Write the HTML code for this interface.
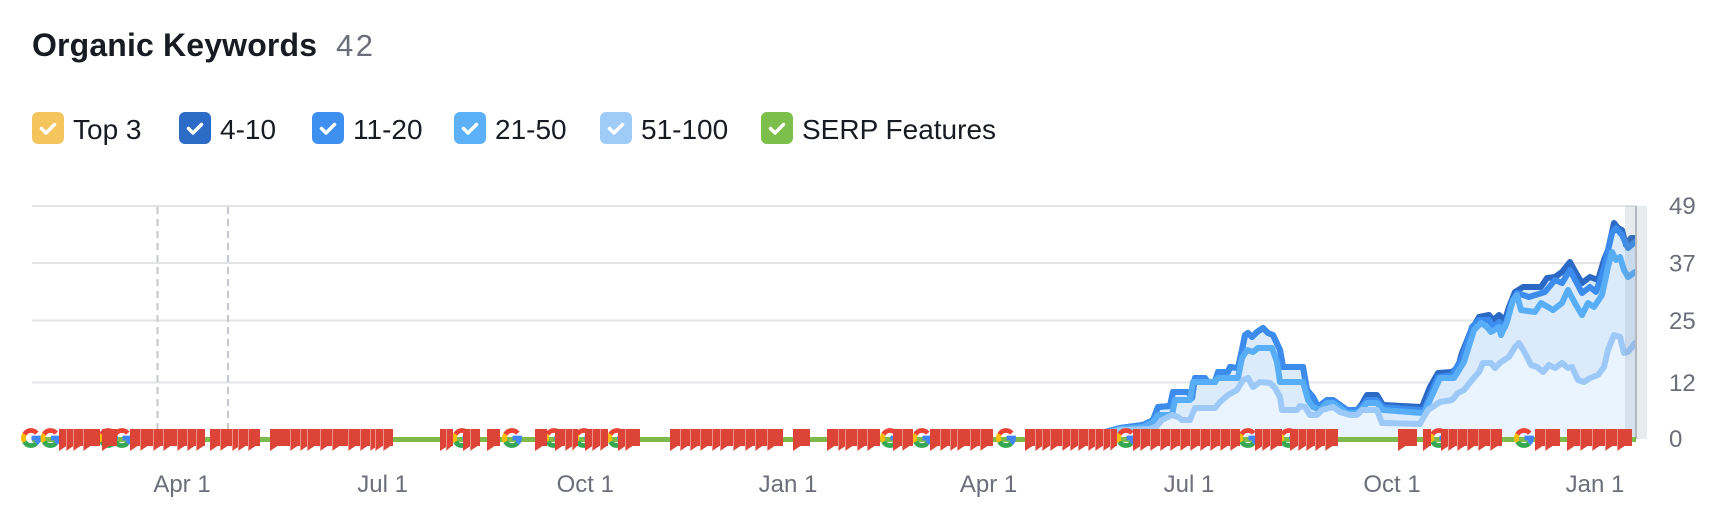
<!DOCTYPE html>
<html>
<head>
<meta charset="utf-8">
<style>
html,body{margin:0;padding:0;background:#fff;width:1734px;height:520px;overflow:hidden}
svg{display:block}
text{font-family:"Liberation Sans",Arial,sans-serif}
</style>
</head>
<body>
<svg width="1734" height="520" viewBox="0 0 1734 520" xmlns="http://www.w3.org/2000/svg">
<defs>
<g id="gl" fill="none" stroke-width="4.8">
<path d="M5.75,-4.82A7.5,7.5 0 0 0 -6.5,-3.75" stroke="#ea4335"/>
<path d="M-6.5,-3.75A7.5,7.5 0 0 0 -6.5,3.75" stroke="#fbbc05"/>
<path d="M-6.5,3.75A7.5,7.5 0 0 0 5.3,5.3" stroke="#34a853"/>
<path d="M5.3,5.3A7.5,7.5 0 0 0 7.5,0H0.5" stroke="#4285f4"/>
</g>
</defs>

<!-- Title -->
<text x="32" y="56" font-size="32" font-weight="bold" fill="#191b23" textLength="285" lengthAdjust="spacing">Organic Keywords</text>
<text x="336" y="56" font-size="31" fill="#6c6e79" textLength="37" lengthAdjust="spacing">42</text>

<!-- Legend -->
<g>
<rect x="32" y="112" width="32" height="32" rx="6" fill="#f4c55c"/>
<rect x="179" y="112" width="32" height="32" rx="6" fill="#2d6cc6"/>
<rect x="312" y="112" width="32" height="32" rx="6" fill="#3f8ff0"/>
<rect x="454" y="112" width="32" height="32" rx="6" fill="#5cb0f8"/>
<rect x="600" y="112" width="32" height="32" rx="6" fill="#9fcbf9"/>
<rect x="761" y="112" width="32" height="32" rx="6" fill="#7cbf4b"/>
<g fill="none" stroke="#fff" stroke-width="3.5" stroke-linecap="round" stroke-linejoin="round">
<polyline points="41.5,128.5 46,133 54.5,124.5"/>
<polyline points="188.5,128.5 193,133 201.5,124.5"/>
<polyline points="321.5,128.5 326,133 334.5,124.5"/>
<polyline points="463.5,128.5 468,133 476.5,124.5"/>
<polyline points="609.5,128.5 614,133 622.5,124.5"/>
<polyline points="770.5,128.5 775,133 783.5,124.5"/>
</g>
<g font-size="28" fill="#191b23">
<text x="73" y="139">Top 3</text>
<text x="220" y="139">4-10</text>
<text x="353" y="139">11-20</text>
<text x="495" y="139">21-50</text>
<text x="641" y="139">51-100</text>
<text x="802" y="139">SERP Features</text>
</g>
</g>

<!-- Gridlines -->
<g stroke="#e3e4e8" stroke-width="2">
<line x1="32" y1="206" x2="1636" y2="206"/>
<line x1="32" y1="263" x2="1636" y2="263"/>
<line x1="32" y1="320.5" x2="1636" y2="320.5"/>
<line x1="32" y1="382.5" x2="1636" y2="382.5"/>
</g>

<!-- Dashed verticals -->
<g stroke="#c4c7cc" stroke-width="2" stroke-dasharray="7 5">
<line x1="157.5" y1="207" x2="157.5" y2="430"/>
<line x1="228" y1="207" x2="228" y2="430"/>
</g>

<!-- Areas -->
<polygon fill="#dbebfc" points="1105,440 1105,432 1120,428 1143,425 1153,420 1158,407 1170,406 1173,392 1188,392 1192,398 1195,378 1205,378 1208,382 1215,382 1218,372 1228,372 1230,367 1238,368 1242,350 1245,335 1248,333 1252,337 1257,332 1263,328 1268,333 1273,335 1280,350 1283,367 1303,367 1307,390 1313,397 1318,407 1327,400 1333,400 1340,405 1347,410 1357,410 1362,404 1367,395 1377,395 1383,405 1422,407 1430,387 1438,373 1452,372 1458,367 1462,353 1470,333 1479,317 1489,315 1493,320 1499,315 1505,320 1509,307 1515,292 1523,287 1541,287 1547,278 1555,277 1562,272 1570,262 1576,273 1582,283 1590,277 1598,280 1604,260 1608,250 1614,223 1618,228 1622,230 1626,245 1631,238 1636,238 1636,440"/>
<polygon fill="#e9f4fe" points="1105,440 1105,434 1120,430 1150,429 1157,426 1162,420 1172,415 1178,417 1182,420 1190,420 1195,408 1215,408 1220,402 1228,395 1237,390 1243,380 1248,378 1253,387 1260,382 1270,383 1275,388 1280,397 1282,410 1297,410 1300,406 1305,407 1310,415 1317,415 1322,410 1333,407 1340,412 1350,415 1357,415 1362,410 1377,410 1382,423 1420,424 1422,420 1428,410 1440,402 1452,400 1458,393 1464,390 1472,380 1479,372 1483,363 1491,363 1495,368 1501,362 1509,357 1515,347 1519,343 1525,353 1531,365 1537,367 1543,372 1549,365 1555,368 1562,363 1568,368 1572,367 1578,380 1584,382 1590,378 1598,375 1604,367 1608,350 1614,335 1620,337 1624,353 1628,352 1636,343 1636,440"/>

<!-- Lines -->
<g fill="none" stroke-width="6" stroke-linejoin="round" stroke-linecap="round">
<polyline stroke="#2b69c4" points="1105,432 1120,428 1143,425 1153,420 1158,407 1170,406 1173,392 1188,392 1192,398 1195,378 1205,378 1208,382 1215,382 1218,372 1228,372 1230,367 1238,368 1242,350 1245,335 1248,333 1252,337 1257,332 1263,328 1268,333 1273,335 1280,350 1283,367 1303,367 1307,390 1313,397 1318,407 1327,400 1333,400 1340,405 1347,410 1357,410 1362,404 1367,395 1377,395 1383,405 1422,407 1430,387 1438,373 1452,372 1458,367 1462,353 1470,333 1479,317 1489,315 1493,320 1499,315 1505,320 1509,307 1515,292 1523,287 1541,287 1547,278 1555,277 1562,272 1570,262 1576,273 1582,283 1590,277 1598,280 1604,260 1608,250 1614,223 1618,228 1622,230 1626,245 1631,238 1635,238"/>
<polyline stroke="#3c8cee" points="1105,432 1120,428 1143,425 1153,420 1158,407 1170,406 1173,392 1188,392 1192,398 1195,378 1205,378 1208,382 1215,382 1218,372 1228,372 1230,367 1238,368 1242,350 1245,335 1248,333 1252,337 1257,332 1263,328 1268,333 1273,335 1280,350 1283,367 1303,367 1307,390 1313,397 1318,407 1327,400 1333,400 1340,405 1347,410 1357,410 1362,406 1367,400 1377,400 1383,407 1422,410 1424,410 1438,377 1452,375 1462,358 1472,327 1479,320 1489,320 1493,327 1499,322 1505,327 1511,305 1517,293 1529,297 1545,292 1555,280 1562,283 1570,270 1582,293 1590,287 1596,292 1604,268 1612,233 1616,228 1622,235 1628,248 1635,242"/>
<polyline stroke="#58adf7" points="1105,433 1120,429 1143,427 1153,422 1158,415 1172,415 1175,400 1190,400 1193,382 1215,382 1218,378 1238,378 1242,358 1247,350 1253,352 1258,348 1272,348 1277,362 1280,382 1303,382 1308,400 1313,407 1320,410 1327,403 1333,403 1340,408 1347,413 1357,413 1362,409 1367,403 1377,403 1383,410 1422,413 1424,413 1440,378 1454,378 1464,362 1474,330 1481,323 1487,327 1491,332 1499,327 1501,335 1507,322 1513,300 1517,295 1521,310 1535,312 1541,303 1553,310 1562,303 1568,290 1576,305 1582,315 1588,303 1594,307 1602,295 1608,267 1612,252 1616,260 1620,257 1624,270 1628,277 1635,272"/>
<polyline stroke="#9dc9f8" points="1105,434 1120,430 1150,429 1157,426 1162,420 1172,415 1178,417 1182,420 1190,420 1195,408 1215,408 1220,402 1228,395 1237,390 1243,380 1248,378 1253,387 1260,382 1270,383 1275,388 1280,397 1282,410 1297,410 1300,406 1305,407 1310,415 1317,415 1322,410 1333,407 1340,412 1350,415 1357,415 1362,410 1377,410 1382,423 1420,424 1422,420 1428,410 1440,402 1452,400 1458,393 1464,390 1472,380 1479,372 1483,363 1491,363 1495,368 1501,362 1509,357 1515,347 1519,343 1525,353 1531,365 1537,367 1543,372 1549,365 1555,368 1562,363 1568,368 1572,367 1578,380 1584,382 1590,378 1598,375 1604,367 1608,350 1614,335 1620,337 1624,353 1628,352 1635,343"/>
</g>

<!-- Right band -->
<rect x="1625" y="206" width="11" height="233" fill="#6e8296" opacity="0.16"/>
<rect x="1636" y="206" width="11" height="233" fill="#e9ecee"/>
<line x1="1636" y1="206" x2="1636" y2="439" stroke="#b3b9bf" stroke-width="2"/>

<!-- Markers: green line -->
<line x1="32" y1="439.5" x2="1636" y2="439.5" stroke="#7cbb4a" stroke-width="5"/>

<!-- Google G markers -->
<g>
<use href="#gl" x="31" y="438"/>
<use href="#gl" x="50.5" y="438"/>
<use href="#gl" x="108" y="438"/>
<use href="#gl" x="122" y="438"/>
<use href="#gl" x="462" y="438"/>
<use href="#gl" x="512" y="438"/>
<use href="#gl" x="554" y="438"/>
<use href="#gl" x="584" y="438"/>
<use href="#gl" x="617" y="438"/>
<use href="#gl" x="890" y="438"/>
<use href="#gl" x="922" y="438"/>
<use href="#gl" x="1006" y="438"/>
<use href="#gl" x="1126" y="438"/>
<use href="#gl" x="1248" y="438"/>
<use href="#gl" x="1289" y="438"/>
<use href="#gl" x="1439" y="438"/>
<use href="#gl" x="1524" y="438"/>
</g>

<!-- Red flags -->
<path fill="#db4437" d="
M59 429H100V446H59Z M102 429H117V446H102Z M130 429H205V446H130Z M210 429H260V446H210Z M270 429H393V446H270Z
M440 429H453V446H440Z M463 429H480V446H463Z M487 429H500V446H487Z M535 429H547V446H535Z M555 429H578V446H555Z
M585 429H608V446H585Z M618 429H640V446H618Z M670 429H783V446H670Z M793 429H810V446H793Z M827 429H880V446H827Z
M893 429H913V446H893Z M930 429H993V446H930Z M1025 429H1117V446H1025Z M1133 429H1240V446H1133Z M1255 429H1282V446H1255Z
M1290 429H1338V446H1290Z M1398 429H1417V446H1398Z M1423 429H1431V446H1423Z M1441 429H1502V446H1441Z M1535 429H1560V446H1535Z
M1567 429H1632V446H1567Z
M59 445h9l-9 6z M66 445h9l-9 6z M73 445h9l-9 6z M83 445h9l-9 6z M102 445h9l-9 6z
M130 445h9l-9 6z M140 445h9l-9 6z M153 445h9l-9 6z M163 445h9l-9 6z M177 445h9l-9 6z M187 445h9l-9 6z M196 445h9l-9 6z
M210 445h9l-9 6z M220 445h9l-9 6z M232 445h9l-9 6z M238 445h9l-9 6z M248 445h9l-9 6z
M270 445h9l-9 6z M290 445h9l-9 6z M300 445h9l-9 6z M307 445h9l-9 6z M320 445h9l-9 6z M332 445h9l-9 6z M348 445h9l-9 6z M360 445h9l-9 6z M370 445h9l-9 6z M375 445h9l-9 6z M383 445h9l-9 6z
M440 445h9l-9 6z M446 445h7l-7 6z M463 445h9l-9 6z M470 445h9l-9 6z M487 445h9l-9 6z
M535 445h9l-9 6z M555 445h9l-9 6z M565 445h9l-9 6z M572 445h6l-6 6z M585 445h9l-9 6z M592 445h9l-9 6z M600 445h8l-8 6z M618 445h9l-9 6z M625 445h9l-9 6z
M670 445h9l-9 6z M680 445h9l-9 6z M690 445h9l-9 6z M700 445h9l-9 6z M712 445h9l-9 6z M720 445h9l-9 6z M733 445h9l-9 6z M745 445h9l-9 6z M755 445h9l-9 6z M767 445h9l-9 6z
M793 445h9l-9 6z M827 445h9l-9 6z M838 445h9l-9 6z M845 445h9l-9 6z M857 445h9l-9 6z M867 445h9l-9 6z
M893 445h9l-9 6z M902 445h9l-9 6z M930 445h9l-9 6z M940 445h9l-9 6z M950 445h9l-9 6z M957 445h9l-9 6z M970 445h9l-9 6z M980 445h9l-9 6z
M1025 445h9l-9 6z M1035 445h9l-9 6z M1042 445h9l-9 6z M1050 445h9l-9 6z M1062 445h9l-9 6z M1070 445h9l-9 6z M1078 445h9l-9 6z M1088 445h9l-9 6z M1095 445h9l-9 6z M1103 445h9l-9 6z M1110 445h7l-7 6z
M1133 445h9l-9 6z M1140 445h9l-9 6z M1150 445h9l-9 6z M1160 445h9l-9 6z M1170 445h9l-9 6z M1180 445h9l-9 6z M1190 445h9l-9 6z M1200 445h9l-9 6z M1210 445h9l-9 6z M1220 445h9l-9 6z M1230 445h9l-9 6z
M1255 445h9l-9 6z M1262 445h9l-9 6z M1270 445h9l-9 6z M1290 445h9l-9 6z M1298 445h9l-9 6z M1306 445h9l-9 6z M1315 445h9l-9 6z M1325 445h9l-9 6z
M1398 445h9l-9 6z M1423 445h8l-8 6z M1441 445h9l-9 6z M1448 445h9l-9 6z M1457 445h9l-9 6z M1467 445h9l-9 6z M1478 445h9l-9 6z M1490 445h9l-9 6z
M1535 445h9l-9 6z M1545 445h9l-9 6z M1567 445h9l-9 6z M1580 445h9l-9 6z M1592 445h9l-9 6z M1605 445h9l-9 6z M1617 445h9l-9 6z
"/>
<path fill="none" stroke="#f5c9c4" stroke-width="1" opacity="0.6" d="
M66.5 429V451 M73.5 429V451 M83.5 429V451 M140.5 429V451 M153.5 429V451 M163.5 429V451 M177.5 429V451 M187.5 429V451 M196.5 429V451
M220.5 429V451 M232.5 429V451 M238.5 429V451 M248.5 429V451 M290.5 429V451 M300.5 429V451 M307.5 429V451 M320.5 429V451 M332.5 429V451
M348.5 429V451 M360.5 429V451 M370.5 429V451 M375.5 429V451 M383.5 429V451 M446.5 429V451 M470.5 429V451 M565.5 429V451 M572.5 429V451
M592.5 429V451 M600.5 429V451 M625.5 429V451 M680.5 429V451 M690.5 429V451 M700.5 429V451 M712.5 429V451 M720.5 429V451 M733.5 429V451
M745.5 429V451 M755.5 429V451 M767.5 429V451 M838.5 429V451 M845.5 429V451 M857.5 429V451 M867.5 429V451 M902.5 429V451 M940.5 429V451
M950.5 429V451 M957.5 429V451 M970.5 429V451 M980.5 429V451 M1035.5 429V451 M1042.5 429V451 M1050.5 429V451 M1062.5 429V451 M1070.5 429V451
M1078.5 429V451 M1088.5 429V451 M1095.5 429V451 M1103.5 429V451 M1110.5 429V451 M1140.5 429V451 M1150.5 429V451 M1160.5 429V451 M1170.5 429V451
M1180.5 429V451 M1190.5 429V451 M1200.5 429V451 M1210.5 429V451 M1220.5 429V451 M1230.5 429V451 M1262.5 429V451 M1270.5 429V451 M1298.5 429V451
M1306.5 429V451 M1315.5 429V451 M1325.5 429V451 M1448.5 429V451 M1457.5 429V451 M1467.5 429V451 M1478.5 429V451 M1490.5 429V451 M1545.5 429V451
M1580.5 429V451 M1592.5 429V451 M1605.5 429V451 M1617.5 429V451
"/>

<!-- Y axis labels -->
<g font-size="24" fill="#6c6e79">
<text x="1669" y="214">49</text>
<text x="1669" y="271.5">37</text>
<text x="1669" y="329">25</text>
<text x="1669" y="391">12</text>
<text x="1669" y="447">0</text>
</g>

<!-- X axis labels -->
<g font-size="24" fill="#6c6e79" text-anchor="middle">
<text x="182" y="492">Apr 1</text>
<text x="382.6" y="492">Jul 1</text>
<text x="585.3" y="492">Oct 1</text>
<text x="788" y="492">Jan 1</text>
<text x="988.6" y="492">Apr 1</text>
<text x="1189" y="492">Jul 1</text>
<text x="1392" y="492">Oct 1</text>
<text x="1595" y="492">Jan 1</text>
</g>
</svg>
</body>
</html>
